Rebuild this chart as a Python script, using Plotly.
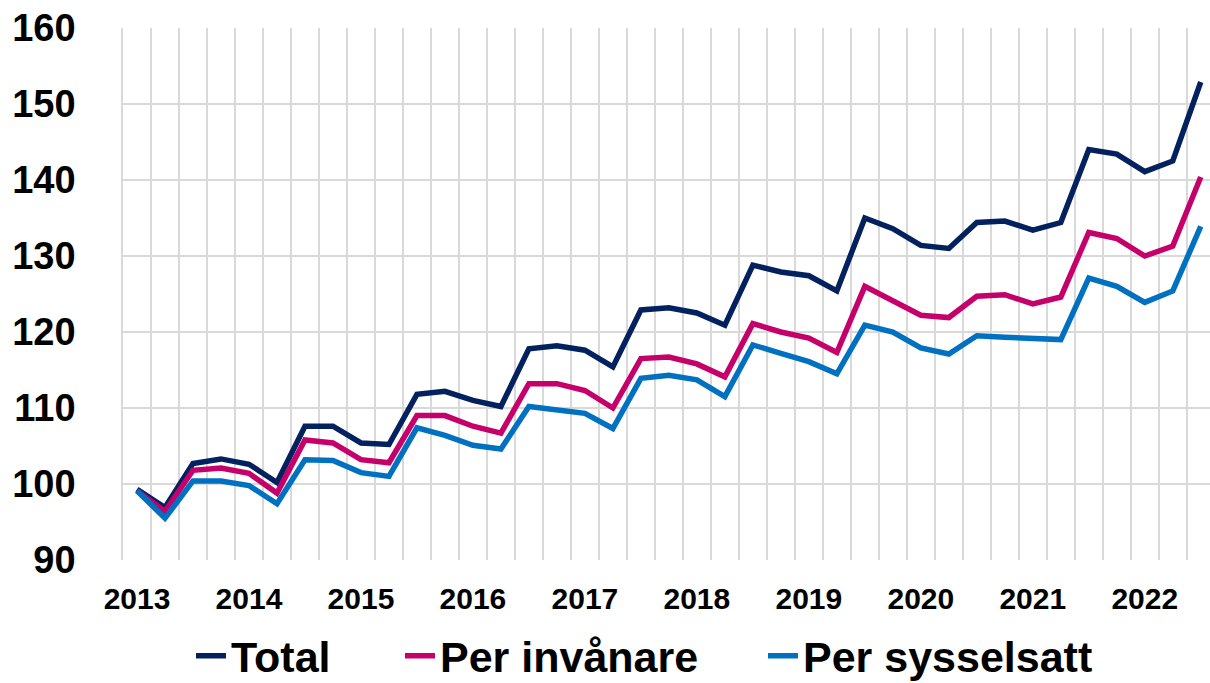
import plotly.graph_objects as go

# Quarterly index, 2013 K1 - 2022 K3
years = list(range(2013, 2023))
quarters = [f"{y} K{q}" for y in years for q in range(1, 5)][:39]

total = [99.3, 96.9, 102.7, 103.3, 102.6, 100.2, 107.6, 107.6, 105.4, 105.2,
         111.8, 112.2, 111.0, 110.2, 117.8, 118.2, 117.6, 115.4, 122.9, 123.2,
         122.5, 120.9, 128.8, 127.9, 127.4, 125.4, 135.0, 133.6, 131.4, 131.0,
         134.4, 134.6, 133.4, 134.4, 144.0, 143.4, 141.1, 142.5, 152.9]
per_invanare = [99.1, 96.4, 101.8, 102.1, 101.4, 98.8, 105.8, 105.4, 103.2, 102.8,
                109.0, 109.0, 107.6, 106.7, 113.2, 113.2, 112.3, 110.0, 116.5, 116.7,
                115.8, 114.1, 121.1, 120.0, 119.2, 117.3, 126.0, 124.2, 122.2, 121.9,
                124.7, 124.9, 123.7, 124.6, 133.1, 132.3, 130.0, 131.3, 140.4]
per_sysselsatt = [99.1, 95.5, 100.4, 100.4, 99.8, 97.4, 103.2, 103.1, 101.5, 101.0,
                  107.4, 106.4, 105.1, 104.6, 110.2, 109.7, 109.3, 107.3, 113.9, 114.3,
                  113.7, 111.5, 118.3, 117.2, 116.1, 114.5, 120.9, 120.0, 117.9, 117.1,
                  119.5, 119.3, 119.2, 119.0, 127.1, 126.0, 123.9, 125.4, 133.9]

series = [
    ("Total", total, "#03215F", "legend"),
    ("Per invånare", per_invanare, "#C6006A", "legend2"),
    ("Per sysselsatt", per_sysselsatt, "#0070C0", "legend3"),
]

fig = go.Figure()
for name, vals, color, leg in series:
    fig.add_trace(go.Scatter(x=quarters, y=vals, name=name, mode="lines",
                             line=dict(color=color, width=5.5), legend=leg))

# show a year label on each first quarter only
ticktext = [q.split()[0] if q.endswith("K1") else "" for q in quarters]

# one legend box per series so the entries sit where they do in the original
leg_style = dict(xref="container", yref="container", y=0.04, yanchor="middle",
                 xanchor="left", font=dict(size=43, weight="bold"),
                 bgcolor="rgba(0,0,0,0)")

fig.update_layout(
    width=1210, height=683,
    margin=dict(l=123, r=0, t=28, b=123, autoexpand=False),
    plot_bgcolor="white", paper_bgcolor="white",
    font=dict(family="Liberation Sans, Arial, sans-serif", color="black"),
    showlegend=True,
    legend=dict(x=191 / 1210, **leg_style),
    legend2=dict(x=400 / 1210, **leg_style),
    legend3=dict(x=763 / 1210, **leg_style),
)
fig.update_xaxes(
    type="category", range=[-0.5, 38.33],
    tickmode="array", tickvals=quarters, ticktext=ticktext,
    tickson="boundaries", ticks="", tickangle=0, automargin=False,
    showgrid=True, gridcolor="#D9D9D9", gridwidth=1.5,
    showline=False, zeroline=False,
    tickfont=dict(size=30, weight="bold"), ticklabelstandoff=18,
)
fig.update_yaxes(
    range=[90, 160], dtick=10, automargin=False,
    showgrid=True, gridcolor="#D9D9D9", gridwidth=1.5,
    zeroline=False, showline=True, linecolor="#D9D9D9", linewidth=1.5,
    tickfont=dict(size=38, weight="bold"), ticklabelstandoff=38,
)

# drop the default page margin so the figure starts at the window corner
fig.write_html("out.html", config={"displayModeBar": False},
               post_script="document.body.style.margin='0';")
